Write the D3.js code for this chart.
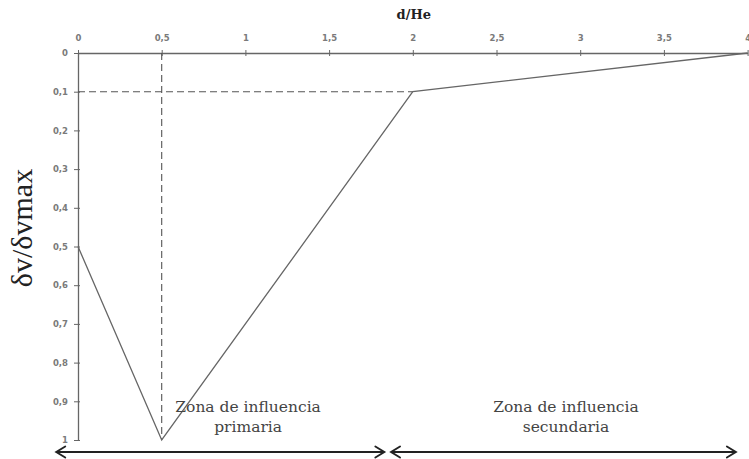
<!DOCTYPE html>
<html>
<head>
<meta charset="utf-8">
<script src="https://cdn.jsdelivr.net/npm/d3@7"></script>
<style>
  html, body { margin: 0; padding: 0; background: #fff; }
  svg { display: block; }
</style>
</head>
<body>
<svg id="chart" width="749" height="459"></svg>
<script>
// Normalised settlement profile vs. normalised distance
const profileX = [0, 0.5, 2, 4];
const profileY = [0.5, 1, 0.1, 0];

const xTicks = [0, 0.5, 1, 1.5, 2, 2.5, 3, 3.5, 4];
const yTicks = [0, 0.1, 0.2, 0.3, 0.4, 0.5, 0.6, 0.7, 0.8, 0.9, 1];

// Reference guides (dashed)
const guideX = 0.5;   // vertical guide at d/He = 0.5
const guideY = 0.1;   // horizontal guide at 0.1, up to d/He = 2
const guideYEnd = 2;

// Zones of influence along d/He
const zoneNames = [["Zona de influencia", "primaria"], ["Zona de influencia", "secundaria"]];
const zoneFrom = [-0.13, 1.87];
const zoneTo = [1.83, 3.93];
const zoneLabelAt = [1.016, 2.915];

const svg = d3.select("#chart");
const plotLeft = 78, plotRight = 747.6, plotTop = 53, plotBottom = 440;

const x = d3.scaleLinear().domain([0, 4]).range([plotLeft, plotRight]);
const y = d3.scaleLinear().domain([0, 1]).range([plotTop, plotBottom]);

const fmt = d => String(d).replace(".", ",");
const axisColor = "#666";

// Top x axis
const gx = svg.append("g").attr("transform", `translate(0,${plotTop})`)
  .call(d3.axisTop(x).tickValues(xTicks).tickFormat(fmt).tickSizeInner(3).tickSizeOuter(0).tickPadding(9));
gx.selectAll(".tick line").attr("y2", 3).attr("y1", -3);
gx.select(".domain").attr("stroke", axisColor).attr("stroke-width", 1.3);

// Left y axis
const gy = svg.append("g").attr("transform", `translate(${plotLeft},0)`)
  .call(d3.axisLeft(y).tickValues(yTicks).tickFormat(fmt).tickSizeInner(3).tickSizeOuter(0).tickPadding(7));
gy.selectAll(".tick line").attr("x1", 2).attr("x2", -4);
gy.select(".domain").attr("stroke", axisColor).attr("stroke-width", 1.3);

[gx, gy].forEach(g => {
  g.selectAll(".tick line").attr("stroke", axisColor);
  g.selectAll(".tick text")
    .attr("font-family", "DejaVu Sans, sans-serif")
    .attr("font-size", 8.5)
    .attr("font-weight", "bold")
    .attr("fill", "#7a7a7a");
});

// Axis titles
svg.append("text")
  .attr("x", x(2) + 1).attr("y", 19)
  .attr("text-anchor", "middle")
  .attr("font-family", "DejaVu Serif, serif")
  .attr("font-weight", "bold")
  .attr("font-size", 13)
  .attr("fill", "#222")
  .text("d/He");

svg.append("text")
  .attr("transform", `translate(32,228) rotate(-90)`)
  .attr("text-anchor", "middle")
  .attr("font-family", "Liberation Serif, serif")
  .attr("font-size", 30)
  .attr("fill", "#222")
  .text("δv/δvmax");

// Dashed guides
const dash = "7,4";
svg.append("line")
  .attr("x1", x(guideX)).attr("x2", x(guideX))
  .attr("y1", y(0)).attr("y2", y(1))
  .attr("stroke", "#555").attr("stroke-width", 1.1).attr("stroke-dasharray", dash);
svg.append("line")
  .attr("x1", x(0)).attr("x2", x(guideYEnd))
  .attr("y1", y(guideY)).attr("y2", y(guideY))
  .attr("stroke", "#555").attr("stroke-width", 1.1).attr("stroke-dasharray", dash);

// Profile line
const pts = profileX.map((v, i) => [v, profileY[i]]);
svg.append("path")
  .datum(pts)
  .attr("fill", "none")
  .attr("stroke", "#666")
  .attr("stroke-width", 1.3)
  .attr("d", d3.line().x(d => x(d[0])).y(d => y(d[1])));

// Zone arrows with open chevron heads
const arrowY = 452;
const head = 9, half = 5.5;
zoneFrom.forEach((f, i) => {
  const x1 = x(f), x2 = x(zoneTo[i]);
  const g = svg.append("g").attr("stroke", "#222").attr("fill", "none")
    .attr("stroke-width", 1.9).attr("stroke-linecap", "round").attr("stroke-linejoin", "miter");
  g.append("line").attr("x1", x1 + 1).attr("x2", x2 - 1).attr("y1", arrowY).attr("y2", arrowY);
  g.append("path").attr("d", `M${x1 + head},${arrowY - half}L${x1},${arrowY}L${x1 + head},${arrowY + half}`);
  g.append("path").attr("d", `M${x2 - head},${arrowY - half}L${x2},${arrowY}L${x2 - head},${arrowY + half}`);

  const t = svg.append("text")
    .attr("x", x(zoneLabelAt[i])).attr("y", 412)
    .attr("text-anchor", "middle")
    .attr("font-family", "DejaVu Serif, serif")
    .attr("font-size", 15.5)
    .attr("fill", "#444");
  zoneNames[i].forEach((line, k) => {
    t.append("tspan").attr("x", x(zoneLabelAt[i])).attr("dy", k === 0 ? 0 : 20).text(line);
  });
});
</script>
</body>
</html>
